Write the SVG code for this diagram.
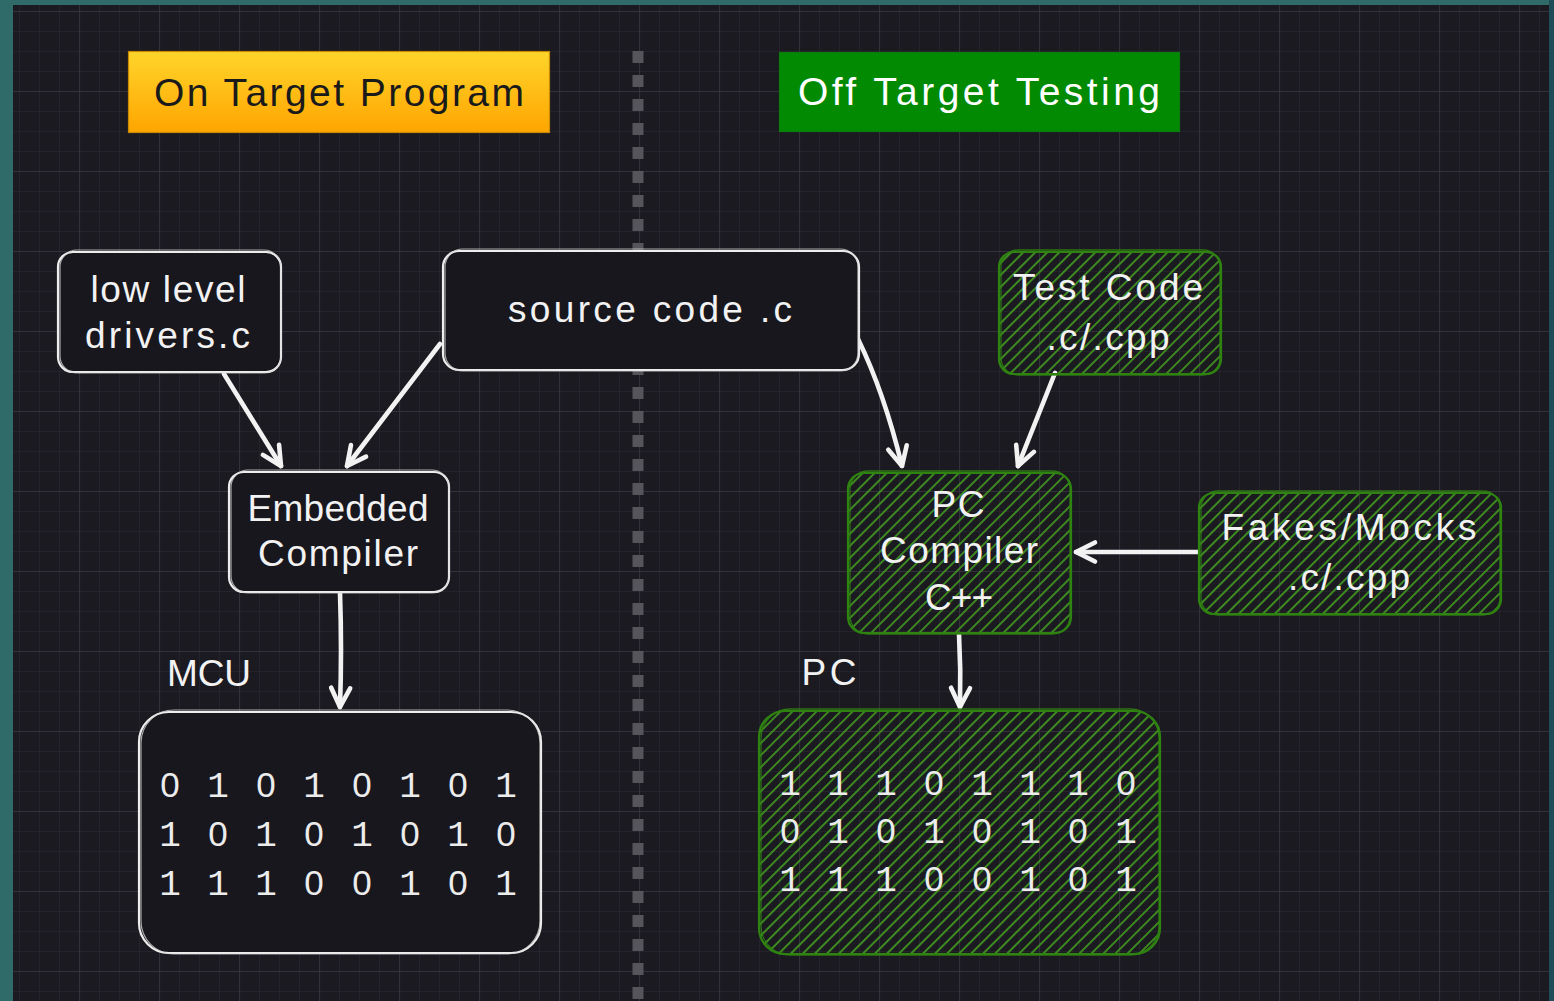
<svg xmlns="http://www.w3.org/2000/svg" width="1554" height="1001" viewBox="0 0 1554 1001">
  <style>
    .lbl { font-family: "Liberation Sans", Arial, sans-serif; font-size: 37px; fill: #f2f2f2; text-anchor: middle; }
    .head { font-family: "Liberation Sans", Arial, sans-serif; font-size: 39px; text-anchor: middle; }
    .bits { font-family: "Liberation Mono", "DejaVu Sans Mono", monospace; font-size: 36px; fill: #ececec; text-anchor: middle; }
    .z { font-family: "Liberation Sans", Arial, sans-serif; font-size: 35px; }
    .wbox { fill: #18171e; stroke: #ededed; stroke-width: 2.2; }
    .wbox2 { fill: none; stroke: #d9d9d9; stroke-width: 1.2; opacity: 0.75; }
    .gbox { fill: url(#hatch); stroke: #2f8411; stroke-width: 2.2; }
    .gbox2 { fill: none; stroke: #2f8411; stroke-width: 1.3; opacity: 0.85; }
    .conn { fill: none; stroke: #f2f2f2; stroke-width: 4.6; stroke-linecap: round; stroke-linejoin: round; marker-end: url(#arrow); }
  </style>
  <defs>
    <pattern id="minor" patternUnits="userSpaceOnUse" x="19" y="11" width="20" height="20">
      <path d="M0.5,0 V20 M0,0.5 H20" stroke="#24232b" stroke-width="1" fill="none"/>
    </pattern>
    <pattern id="major" patternUnits="userSpaceOnUse" x="79" y="11" width="80" height="80">
      <path d="M0.5,0 V80 M0,0.5 H80" stroke="#33323a" stroke-width="1.2" fill="none"/>
    </pattern>
    <pattern id="hatch" patternUnits="userSpaceOnUse" width="8.5" height="8.5" patternTransform="rotate(45)">
      <path d="M1,0 V8.5" stroke="#3f8f20" stroke-width="1.9" fill="none"/>
    </pattern>
    <linearGradient id="gold" x1="0" y1="0" x2="0" y2="1">
      <stop offset="0" stop-color="#ffd52b"/>
      <stop offset="1" stop-color="#ffa500"/>
    </linearGradient>
    <marker id="arrow" viewBox="-24 -13 28 26" refX="0" refY="0" markerWidth="28" markerHeight="26" markerUnits="userSpaceOnUse" orient="auto">
      <path d="M-19,-9.5 L0,0 L-19,9.5" fill="none" stroke="#f2f2f2" stroke-width="4.6" stroke-linecap="round" stroke-linejoin="round"/>
    </marker>
  </defs>

  <!-- frame and canvas -->
  <rect x="0" y="0" width="1554" height="1001" fill="#2f6b68"/>
  <rect x="1549" y="0" width="5" height="1001" fill="#1f4c57"/>
  <rect x="13" y="5" width="1536" height="996" fill="#1b1a21"/>
  <rect x="13" y="5" width="1536" height="996" fill="url(#minor)"/>
  <rect x="13" y="5" width="1536" height="996" fill="url(#major)"/>

  <!-- divider -->
  <line id="divider" x1="638" y1="51" x2="638" y2="1001" stroke="#56555b" stroke-width="11" stroke-dasharray="12 12"/>

  <!-- headers -->
  <g id="on-target-header">
    <rect x="128.5" y="51.5" width="421" height="81" fill="url(#gold)" stroke="#c88a00" stroke-width="1.2"/>
    <text class="head" x="339" y="106" fill="#1a1a1a" textLength="370">On Target Program</text>
  </g>
  <g id="off-target-header">
    <rect x="779.5" y="52.5" width="400" height="79" fill="#038a03" stroke="#0d7a0d" stroke-width="1.2"/>
    <text class="head" x="979" y="105" fill="#ffffff" textLength="362">Off Target Testing</text>
  </g>

  <!-- connectors -->
  <g id="connectors">
    <path class="conn" d="M224,374 L281,466"/>
    <path class="conn" d="M440,344 L347,466"/>
    <path class="conn" d="M340,593 Q342,650 340,707"/>
    <path class="conn" d="M858,339 Q884,392 902,466"/>
    <path class="conn" d="M1055,373 L1018,466"/>
    <path class="conn" d="M1198,552 L1076,552"/>
    <path class="conn" d="M959,634 Q961,670 960,707"/>
  </g>

  <!-- nodes -->
  <g id="low-level-drivers">
    <rect class="wbox" x="58" y="252" width="223" height="120" rx="15"/>
    <rect class="wbox2" x="60" y="250" width="221" height="123" rx="17"/>
    <text class="lbl" x="168" y="302" textLength="155">low level</text>
    <text class="lbl" x="167.5" y="348" textLength="165">drivers.c</text>
  </g>

  <g id="source-code">
    <rect class="wbox" x="443" y="251" width="416" height="119" rx="16"/>
    <rect class="wbox2" x="445" y="249" width="413" height="122" rx="18"/>
    <text class="lbl" x="650" y="322" textLength="284">source code .c</text>
  </g>

  <g id="test-code">
    <rect class="gbox" x="999" y="252" width="222" height="122" rx="15"/>
    <rect class="gbox2" x="1001" y="250" width="219" height="125" rx="17"/>
    <text class="lbl" x="1108" y="300" textLength="190">Test Code</text>
    <text class="lbl" x="1108" y="350" textLength="123">.c/.cpp</text>
  </g>

  <g id="embedded-compiler">
    <rect class="wbox" x="229" y="472" width="220" height="120" rx="15"/>
    <rect class="wbox2" x="231" y="470" width="218" height="123" rx="17"/>
    <text class="lbl" x="338" y="521" textLength="181">Embedded</text>
    <text class="lbl" x="338" y="566" textLength="160">Compiler</text>
  </g>

  <g id="pc-compiler">
    <rect class="gbox" x="848" y="473" width="223" height="160" rx="16"/>
    <rect class="gbox2" x="850" y="471" width="220" height="163" rx="18"/>
    <text class="lbl" x="958" y="517" textLength="53">PC</text>
    <text class="lbl" x="959" y="563" textLength="158">Compiler</text>
    <text class="lbl" x="959" y="610" textLength="68">C++</text>
  </g>

  <g id="fakes-mocks">
    <rect class="gbox" x="1199" y="493" width="302" height="121" rx="15"/>
    <rect class="gbox2" x="1201" y="491" width="299" height="124" rx="17"/>
    <text class="lbl" x="1349" y="540" textLength="255">Fakes/Mocks</text>
    <text class="lbl" x="1349" y="590" textLength="122">.c/.cpp</text>
  </g>

  <g id="mcu">
    <text class="lbl" x="209" y="686" textLength="84">MCU</text>
    <rect class="wbox" x="139" y="712" width="402" height="241" rx="30"/>
    <rect class="wbox2" x="141" y="710" width="399" height="244" rx="33"/>
    <text class="bits" y="797"><tspan class="z" x="170">0</tspan><tspan x="218">1</tspan><tspan class="z" x="266">0</tspan><tspan x="314">1</tspan><tspan class="z" x="362">0</tspan><tspan x="410">1</tspan><tspan class="z" x="458">0</tspan><tspan x="506">1</tspan></text>
    <text class="bits" y="846"><tspan x="170">1</tspan><tspan class="z" x="218">0</tspan><tspan x="266">1</tspan><tspan class="z" x="314">0</tspan><tspan x="362">1</tspan><tspan class="z" x="410">0</tspan><tspan x="458">1</tspan><tspan class="z" x="506">0</tspan></text>
    <text class="bits" y="895"><tspan x="170">1</tspan><tspan x="218">1</tspan><tspan x="266">1</tspan><tspan class="z" x="314">0</tspan><tspan class="z" x="362">0</tspan><tspan x="410">1</tspan><tspan class="z" x="458">0</tspan><tspan x="506">1</tspan></text>
  </g>

  <g id="pc">
    <text class="lbl" x="829" y="685" textLength="55">PC</text>
    <rect class="gbox" x="759" y="711" width="401" height="243" rx="26"/>
    <rect class="gbox2" x="761" y="709" width="398" height="246" rx="29"/>
    <text class="bits" y="795"><tspan x="790">1</tspan><tspan x="838">1</tspan><tspan x="886">1</tspan><tspan class="z" x="934">0</tspan><tspan x="982">1</tspan><tspan x="1030">1</tspan><tspan x="1078">1</tspan><tspan class="z" x="1126">0</tspan></text>
    <text class="bits" y="843"><tspan class="z" x="790">0</tspan><tspan x="838">1</tspan><tspan class="z" x="886">0</tspan><tspan x="934">1</tspan><tspan class="z" x="982">0</tspan><tspan x="1030">1</tspan><tspan class="z" x="1078">0</tspan><tspan x="1126">1</tspan></text>
    <text class="bits" y="891"><tspan x="790">1</tspan><tspan x="838">1</tspan><tspan x="886">1</tspan><tspan class="z" x="934">0</tspan><tspan class="z" x="982">0</tspan><tspan x="1030">1</tspan><tspan class="z" x="1078">0</tspan><tspan x="1126">1</tspan></text>
  </g>
</svg>
